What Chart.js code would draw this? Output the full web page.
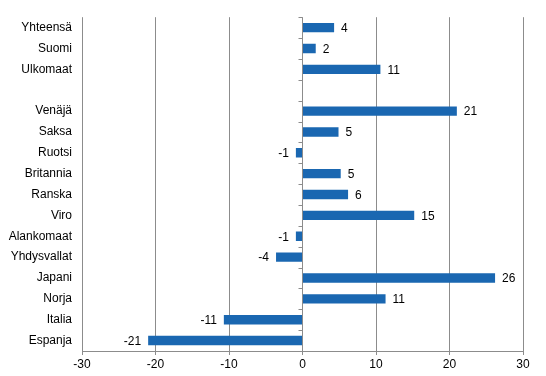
<!DOCTYPE html>
<html>
<head>
<meta charset="utf-8">
<script src="https://cdn.jsdelivr.net/npm/chart.js@4/dist/chart.umd.min.js"></script>
<style>
  html, body { margin: 0; padding: 0; background: #fff; }
  #wrap { width: 546px; height: 376px; }
</style>
</head>
<body>
<div id="wrap"><canvas id="chart"></canvas></div>
<script>
const categories = ["Yhteensä", "Suomi", "Ulkomaat", "", "Venäjä", "Saksa", "Ruotsi", "Britannia",
  "Ranska", "Viro", "Alankomaat", "Yhdysvallat", "Japani", "Norja", "Italia", "Espanja"];
const changes = [4.3, 1.8, 10.6, null, 21.0, 4.9, -0.9, 5.2, 6.2, 15.2, -0.9, -3.6, 26.2, 11.3, -10.7, -21.0];
const xTicks = [-30, -20, -10, 0, 10, 20, 30];

const gridColor = '#8c8c8c';

// value labels next to bar ends
const valueLabels = {
  id: 'valueLabels',
  afterDatasetsDraw(chart) {
    const ctx = chart.ctx;
    const meta = chart.getDatasetMeta(0);
    ctx.save();
    ctx.font = '12px "Liberation Sans", Arial, sans-serif';
    ctx.fillStyle = '#000';
    ctx.textBaseline = 'middle';
    meta.data.forEach((bar, i) => {
      const v = changes[i];
      if (v === null) return;
      const txt = String(Math.round(v));
      if (v >= 0) {
        ctx.textAlign = 'left';
        ctx.fillText(txt, bar.x + 7, bar.y + 1);
      } else {
        ctx.textAlign = 'right';
        ctx.fillText(txt, bar.x - 7, bar.y + 1);
      }
    });
    ctx.restore();
  }
};

// small ticks on the zero line between categories
const zeroTicks = {
  id: 'zeroTicks',
  afterDatasetsDraw(chart) {
    const ctx = chart.ctx;
    const x0 = chart.scales.x.getPixelForValue(0);
    const area = chart.chartArea;
    const step = (area.bottom - area.top) / categories.length;
    ctx.save();
    ctx.strokeStyle = gridColor;
    ctx.lineWidth = 1;
    ctx.beginPath();
    for (let i = 0; i <= categories.length; i++) {
      const y = Math.round(area.top + i * step) + 0.5;
      ctx.moveTo(x0 - 4, y);
      ctx.lineTo(x0, y);
    }
    ctx.stroke();
    ctx.restore();
  }
};

new Chart(document.getElementById('chart'), {
  type: 'bar',
  data: {
    labels: categories,
    datasets: [{
      data: changes,
      backgroundColor: '#1a67b1',
      barPercentage: 0.45,
      categoryPercentage: 1
    }]
  },
  options: {
    indexAxis: 'y',
    responsive: true,
    maintainAspectRatio: false,
    animation: false,
    layout: { padding: { top: 15, right: 23, bottom: 0, left: 0 } },
    plugins: { legend: { display: false }, tooltip: { enabled: false } },
    scales: {
      x: {
        min: -30, max: 30,
        afterBuildTicks: (s) => { s.ticks = xTicks.map(v => ({ value: v })); },
        afterFit: (s) => { s.height = 25; },
        grid: { color: gridColor, drawTicks: true, tickLength: 4 },
        border: { color: gridColor },
        ticks: {
          padding: 2,
          color: '#000',
          font: { family: '"Liberation Sans", Arial, sans-serif', size: 12 }
        }
      },
      y: {
        afterFit: (s) => { s.width = 82; },
        grid: { display: false, drawTicks: false },
        border: { display: false },
        ticks: {
          padding: 10,
          autoSkip: false,
          color: '#000',
          font: { family: '"Liberation Sans", Arial, sans-serif', size: 12 }
        }
      }
    }
  },
  plugins: [valueLabels, zeroTicks]
});
</script>
</body>
</html>
